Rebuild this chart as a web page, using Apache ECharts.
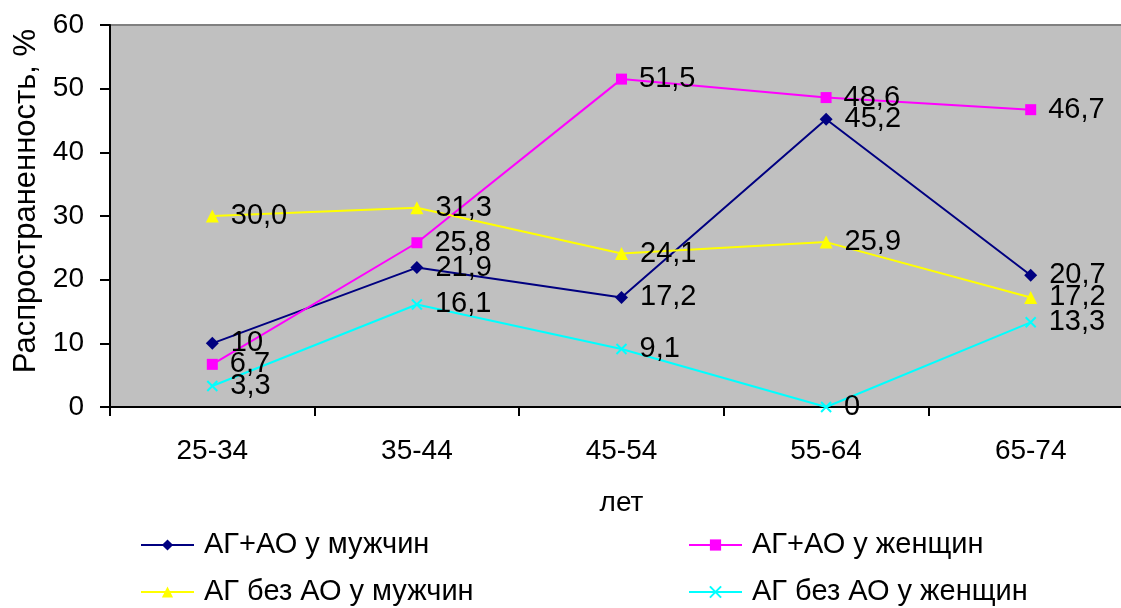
<!DOCTYPE html>
<html>
<head>
<meta charset="utf-8">
<script src="https://cdn.jsdelivr.net/npm/echarts@6/dist/echarts.min.js"></script>
<style>html,body{margin:0;padding:0;background:#fff}#c{width:1121px;height:608px}</style>
</head>
<body>
<div id="c"></div>
<script>
var categories = ['25-34', '35-44', '45-54', '55-64', '65-74'];
var yTicks = [0, 10, 20, 30, 40, 50, 60];
var seriesNames = ['АГ+АО у мужчин', 'АГ+АО у женщин', 'АГ без АО у мужчин', 'АГ без АО у женщин'];
var menAO = [10, 21.9, 17.2, 45.2, 20.7];
var womenAO = [6.7, 25.8, 51.5, 48.6, 46.7];
var menNoAO = [30.0, 31.3, 24.1, 25.9, 17.2];
var womenNoAO = [3.3, 16.1, 9.1, 0, 13.3];
var menAOLabels = ['10', '21,9', '17,2', '45,2', '20,7'];
var womenAOLabels = ['6,7', '25,8', '51,5', '48,6', '46,7'];
var menNoAOLabels = ['30,0', '31,3', '24,1', '25,9', '17,2'];
var womenNoAOLabels = ['3,3', '16,1', '9,1', '0', '13,3'];

var FONT = '"Liberation Sans", Arial, sans-serif';
var FS = 29;
var FT = 28;

function mk(name, values, labels, color, symbol, size, extraItem) {
  return {
    name: name,
    type: 'line',
    data: values,
    symbol: symbol,
    symbolSize: size,
    showAllSymbol: true,
    lineStyle: { color: color, width: 2 },
    itemStyle: Object.assign({ color: color }, extraItem || {}),
    label: {
      show: true,
      position: 'right',
      distance: 12,
      color: '#000',
      fontFamily: FONT,
      fontSize: FS,
      formatter: function (p) { return labels[p.dataIndex]; }
    },
    emphasis: { disabled: true },
    animation: false,
    z: 3
  };
}

var series = [
  mk(seriesNames[0], menAO, menAOLabels, '#000080', 'diamond', 13),
  mk(seriesNames[1], womenAO, womenAOLabels, '#FF00FF', 'rect', 11),
  mk(seriesNames[2], menNoAO, menNoAOLabels, '#FFFF00', 'triangle', 13),
  mk(seriesNames[3], womenNoAO, womenNoAOLabels, '#00FFFF', 'path://M0,0L10,10M10,0L0,10', 10,
     { borderColor: '#00FFFF', borderWidth: 2 })
];

function lg(name, left, top) {
  return {
    data: [name],
    left: left,
    top: top,
    padding: 0,
    itemWidth: 53,
    itemHeight: 14,
    itemGap: 0,
    selectedMode: false,
    textStyle: { color: '#000', fontFamily: FONT, fontSize: FS, lineHeight: 30, padding: [0, 0, 0, 5] }
  };
}

var chart = echarts.init(document.getElementById('c'), null, { renderer: 'canvas' });
chart.setOption({
  animation: false,
  backgroundColor: '#ffffff',
  grid: {
    left: 110, top: 25, width: 1023, height: 382,
    outerBoundsMode: 'none',
    containLabel: false,
    show: true, backgroundColor: '#C0C0C0', borderColor: '#808080', borderWidth: 2
  },
  legend: [
    lg(seriesNames[0], 140, 530),
    lg(seriesNames[1], 688, 530),
    lg(seriesNames[2], 140, 577),
    lg(seriesNames[3], 688, 577)
  ],
  xAxis: {
    type: 'category',
    data: categories,
    boundaryGap: true,
    name: 'лет',
    nameLocation: 'middle',
    nameGap: 82,
    nameTextStyle: { color: '#000', fontFamily: FONT, fontSize: FT },
    axisLine: { lineStyle: { color: '#000', width: 2 } },
    axisTick: { show: true, length: 9, alignWithLabel: false, lineStyle: { color: '#000', width: 2 } },
    axisLabel: { color: '#000', fontFamily: FONT, fontSize: FT, margin: 30 },
    splitLine: { show: false }
  },
  yAxis: {
    type: 'value',
    min: yTicks[0],
    max: yTicks[yTicks.length - 1],
    interval: 10,
    name: 'Распространенность, %',
    nameLocation: 'middle',
    nameGap: 67,
    nameRotate: 90,
    nameTextStyle: { color: '#000', fontFamily: FONT, fontSize: 31, padding: [0, 0, 0, 30] },
    axisLine: { show: true, lineStyle: { color: '#000', width: 2 } },
    axisTick: { show: true, length: 10, lineStyle: { color: '#000', width: 2 } },
    axisLabel: { color: '#000', fontFamily: FONT, fontSize: FT, margin: 26 },
    splitLine: { show: false }
  },
  series: series
});
</script>
</body>
</html>
